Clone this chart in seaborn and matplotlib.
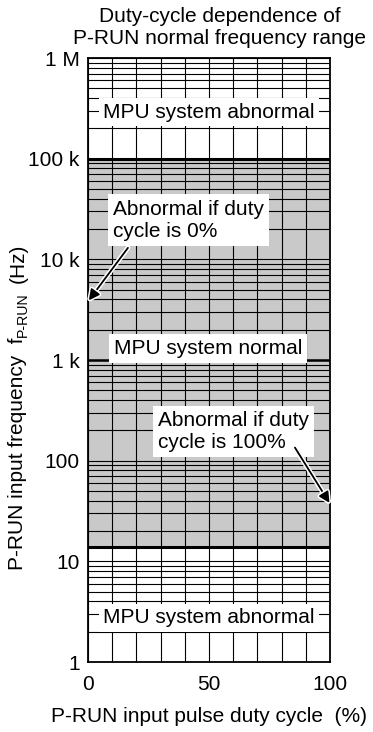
import numpy as np
import pandas as pd
import matplotlib
matplotlib.use("Agg")
import matplotlib.pyplot as plt
import matplotlib.patheffects as pe
from matplotlib.ticker import LogLocator, NullFormatter, FixedLocator
import seaborn as sns

# ---------------- data ----------------
duty_range = [0, 100]                      # % duty cycle
duty_ticks = [0, 50, 100]
duty_grid = [0, 10, 20, 30, 40, 50, 60, 70, 80, 90, 100]
freq_ticks = [1, 10, 100, 1e3, 1e4, 1e5, 1e6]
freq_labels = ["1", "10", "100", "1 k", "10 k", "100 k", "1 M"]
normal_low = 14          # Hz, lower bound of normal range
normal_high = 1e5        # Hz, upper bound of normal range
freq_limits = [1, 1e6]

title = "Duty-cycle dependence of\nP-RUN normal frequency range"
xlabel = "P-RUN input pulse duty cycle  (%)"
ylabel_main = "P-RUN input frequency  f"
ylabel_sub = "P-RUN"
ylabel_unit = "(Hz)"

# region labels: (text, duty, freq)
region_labels = [
    ("MPU system abnormal", 50, 2.9e5),
    ("MPU system normal", 49.5, 1.3e3),
    ("MPU system abnormal", 50, 2.75),
]
# annotations: (text, text_duty, text_freq, tail_duty, tail_freq, head_duty, head_freq)
notes = [
    ("Abnormal if duty\ncycle is 0%", 10.3, 2.45e4, 16.5, 1.3e4, 0.3, 3.9e3),
    ("Abnormal if duty\ncycle is 100%", 29.0, 1.95e2, 85.5, 1.35e2, 99.8, 38),
]

# ---------------- style ----------------
sns.set_theme(style="white")
plt.rcParams["font.family"] = ["Liberation Sans", "DejaVu Sans"]
FS = 15

fig = plt.figure(figsize=(3.73, 7.32), dpi=100)
ax = fig.add_axes([88 / 373, 1 - 662 / 732, (330 - 88) / 373, (662 - 58) / 732])

ax.set_yscale("log")
ax.set_xlim(*duty_range)
ax.set_ylim(*freq_limits)

# normal range shading
ax.fill_between(duty_range, [normal_low] * 2, [normal_high] * 2,
                color="#c9c9c9", lw=0, zorder=0.5)

# grid
ax.xaxis.set_minor_locator(FixedLocator(duty_grid))
ax.yaxis.set_minor_locator(LogLocator(base=10, subs=np.arange(2, 10)))
ax.yaxis.set_minor_formatter(NullFormatter())
ax.set_axisbelow(False)
ax.grid(True, which="both", axis="both", color="black", lw=0.8)

# boundary lines via seaborn
bounds = pd.DataFrame({
    "duty": duty_range * 2,
    "freq": [normal_high] * 2 + [normal_low] * 2,
    "bound": ["high"] * 2 + ["low"] * 2,
})
sns.lineplot(data=bounds, x="duty", y="freq", units="bound", estimator=None,
             color="black", lw=2.2, ax=ax, zorder=2.7, legend=False)
ax.axhline(1e3, color="black", lw=1.8, zorder=2.6)

ax.set_xticks(duty_ticks)
ax.set_xticklabels([str(t) for t in duty_ticks])
ax.set_yticks(freq_ticks)
ax.set_yticklabels(freq_labels)
ax.tick_params(axis="both", which="both", length=0, labelsize=FS, colors="black")
ax.tick_params(axis="y", pad=6)
ax.tick_params(axis="x", pad=9)

for s in ax.spines.values():
    s.set_color("black")
    s.set_linewidth(1.3)
    s.set_zorder(3)

ax.set_xlabel(xlabel, fontsize=FS, labelpad=10, color="black")
ax.set_ylabel("")

# y label built from pieces (main text, subscript, unit), rotated 90°
ylab_x = 18 / 373
t_main = fig.text(ylab_x, 1 - 570 / 732, ylabel_main, rotation=90, ha="center",
                  va="bottom", fontsize=FS, color="black")
fig.canvas.draw()
inv = fig.transFigure.inverted()
bb = t_main.get_window_extent()
top_main = inv.transform((0, bb.y1))[1]
t_sub = fig.text(ylab_x + 5 / 373, top_main + 1 / 732, ylabel_sub, rotation=90,
                 ha="center", va="bottom", fontsize=FS * 0.68, color="black")
fig.canvas.draw()
bb2 = t_sub.get_window_extent()
top_sub = inv.transform((0, bb2.y1))[1]
fig.text(ylab_x, top_sub + 9 / 732, ylabel_unit, rotation=90, ha="center",
         va="bottom", fontsize=FS, color="black")

fig.text(220 / 373, 1 - 28 / 732, title, ha="center", va="center",
         fontsize=FS, color="black", linespacing=1.2)

for txt, dx, fy in region_labels:
    ax.text(dx, fy, txt, ha="center", va="center", fontsize=FS, color="black",
            zorder=4, bbox=dict(boxstyle="square,pad=0.22", fc="white", ec="none"))

for txt, tx, ty, ax0, ay0, hx, hy in notes:
    ax.text(tx, ty, txt, ha="left", va="center", fontsize=FS, color="black",
            zorder=4, linespacing=1.2,
            bbox=dict(boxstyle="square,pad=0.25", fc="white", ec="none"))
    ax.annotate("", xy=(hx, hy), xytext=(ax0, ay0), zorder=5,
                arrowprops=dict(arrowstyle="-|>", color="black", lw=1.3,
                                mutation_scale=16, shrinkA=0, shrinkB=0,
                                path_effects=[pe.Stroke(linewidth=3.5, foreground="white"),
                                              pe.Normal()]))

fig.savefig("out.png", dpi=100)
